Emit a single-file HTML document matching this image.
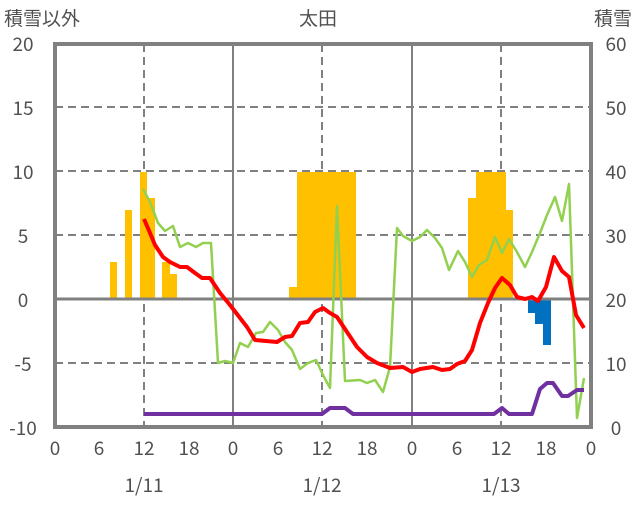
<!DOCTYPE html>
<html><head><meta charset="utf-8"><style>
body{margin:0;background:#fff}
svg text{font-family:"Noto Sans CJK JP","Liberation Sans",sans-serif;fill:#505050}
</style></head><body>
<svg width="636" height="501" viewBox="0 0 636 501" xmlns="http://www.w3.org/2000/svg">
<g stroke="#808080" stroke-width="2" stroke-dasharray="8,5">
<line x1="55" y1="107" x2="591" y2="107"/><line x1="55" y1="171" x2="591" y2="171"/>
<line x1="55" y1="235" x2="591" y2="235"/><line x1="55" y1="363" x2="591" y2="363"/>
<line x1="144" y1="44" x2="144" y2="427"/><line x1="322" y1="44" x2="322" y2="427"/><line x1="501" y1="44" x2="501" y2="427"/>
</g>
<g stroke="#808080" stroke-width="2"><line x1="233" y1="44" x2="233" y2="427"/><line x1="412" y1="44" x2="412" y2="427"/></g>
<g fill="#FFC000">
<rect x="110" y="262" width="7" height="37"/><rect x="125" y="210" width="7" height="89"/>
<rect x="140" y="172" width="7" height="127"/><rect x="147" y="198" width="8" height="101"/>
<rect x="162" y="262" width="8" height="37"/><rect x="170" y="274" width="7" height="25"/>
<rect x="289" y="287" width="8" height="12"/><rect x="297" y="172" width="59" height="127"/>
<rect x="468" y="198" width="8" height="101"/><rect x="476" y="172" width="30" height="127"/><rect x="506" y="210" width="7" height="89"/>
</g>
<g fill="#0070C0"><rect x="528" y="299" width="7" height="14"/><rect x="535" y="299" width="8" height="25"/><rect x="543" y="299" width="8" height="46"/></g>
<line x1="55" y1="299" x2="591" y2="299" stroke="#808080" stroke-width="3"/>
<polyline fill="none" stroke="#92D050" stroke-width="2.5" stroke-linejoin="round" points="143,189 150,202 158,223 165,231 173,226 180,247 188,243 196,247 203,243 211,243 218,363 225,361 233,363 240,343 248,347 256,333 263,332 270,322 278,330 285,342 292,350 300,369 308,363 316,360 323,375 330,388 337,206 345,381 360,380 367,383 375,380 383,392 390,367 397,228 403,236 412,241 420,237 427,230 435,238 442,248 449,270 458,251 465,262 472,277 479,265 487,260 495,237 502,253 509,239 517,252 525,267 532,252 540,233 547,215 555,197 562,221 569,184 577,418 584,378"/>
<polyline fill="none" stroke="#FF0000" stroke-width="4" stroke-linejoin="round" points="144,219 150,233 155,245 163,257 170,262 180,267 187,267 195,273 202,278 210,278 220,293 230,305 247,327 255,340 277,342 285,337 292,336 300,323 308,322 315,312 323,308 330,313 337,317 347,332 357,347 367,357 377,363 390,368 403,367 412,372 420,369 433,367 442,370 450,369 457,364 465,361 472,350 480,323 488,303 495,288 502,278 510,285 517,297 525,299 532,297 538,301 546,287 554,257 562,271 569,277 576,315 584,328"/>
<polyline fill="none" stroke="#7030A0" stroke-width="4" stroke-linejoin="round" points="144,414 322,414 330,408 345,408 353,414 494,414 502,408 509,414 532,414 540,389 547,383 553,383 562,396 568,396 577,390 584,390"/>
<rect x="55" y="44" width="536" height="383" fill="none" stroke="#808080" stroke-width="4"/>
<g font-size="19" text-anchor="middle">
<text x="23" y="51">20</text><text x="23" y="115">15</text><text x="23" y="179">10</text><text x="23" y="243">5</text><text x="23" y="307">0</text><text x="23" y="371">-5</text><text x="23" y="435">-10</text>
<text x="616" y="51">60</text><text x="616" y="115">50</text><text x="616" y="179">40</text><text x="616" y="243">30</text><text x="616" y="307">20</text><text x="616" y="371">10</text><text x="616" y="435">0</text>
<text x="55" y="455">0</text><text x="99" y="455">6</text><text x="144" y="455">12</text><text x="189" y="455">18</text>
<text x="233" y="455">0</text><text x="278" y="455">6</text><text x="322" y="455">12</text><text x="367" y="455">18</text>
<text x="412" y="455">0</text><text x="457" y="455">6</text><text x="501" y="455">12</text><text x="546" y="455">18</text><text x="591" y="455">0</text>
<text x="144" y="492">1/11</text><text x="322" y="492">1/12</text><text x="501" y="492">1/13</text>
<text x="318" y="25">太田</text>
</g>
<text x="4" y="25" font-size="19">積雪以外</text>
<text x="594" y="25" font-size="19">積雪</text>
</svg>
</body></html>
